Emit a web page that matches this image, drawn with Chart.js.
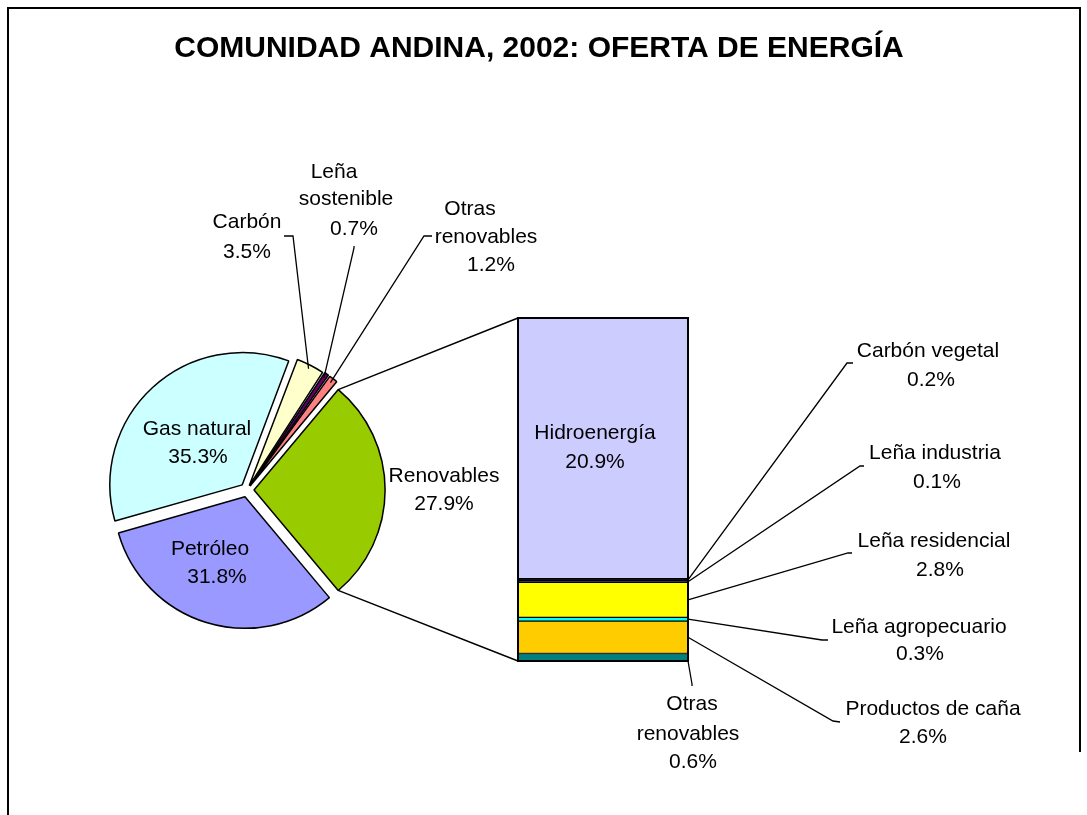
<!DOCTYPE html>
<html>
<head>
<meta charset="utf-8">
<script src="https://cdn.jsdelivr.net/npm/chart.js@4.4.0/dist/chart.umd.min.js"></script>
<style>
  body { margin: 0; background: #fff; }
  #wrap { position: relative; width: 1087px; height: 815px; overflow: hidden; }
  .ln { position: absolute; background: #000; }
  canvas { position: absolute; left: 0; top: 0; }
</style>
</head>
<body>
<div id="wrap">
  <div class="ln" style="left:7px;top:7px;width:1074px;height:2px"></div>
  <div class="ln" style="left:7px;top:7px;width:2px;height:808px"></div>
  <div class="ln" style="left:1079px;top:7px;width:2px;height:745px"></div>
  <canvas id="pie" width="1087" height="815"></canvas>
  <canvas id="bar" width="1087" height="815"></canvas>
</div>
<script>
// chart data
const title = "COMUNIDAD ANDINA, 2002: OFERTA DE ENERGÍA";
const pieLabels = ["Renovables", "Petróleo", "Gas natural", "Carbón", "Leña sostenible", "Otras renovables"];
const pieValues = [27.9, 31.8, 35.3, 3.5, 0.7, 1.2];
const pieColors = ["#99CC00", "#9999FF", "#CCFFFF", "#FFFFCC", "#660066", "#FF8080"];

// the "Renovables" slice broken down, bottom to top
const barLabels = ["Otras renovables", "Productos de caña", "Leña agropecuario", "Leña residencial", "Leña industria", "Carbón vegetal", "Hidroenergía"];
const barValues = [0.6, 2.6, 0.3, 2.8, 0.1, 0.2, 20.9];
const barColors = ["#008080", "#FFCC00", "#00FFFF", "#FFFF00", "#000080", "#000000", "#CCCCFF"];

// where the label texts sit (one point per text line) and their leader ticks
const pieLayout = [
  { at: [[444, 476], [444, 504]] },
  { at: [[210, 549], [217, 577]] },
  { at: [[197, 429], [198, 457]] },
  { at: [[247, 222], [247, 252]], tick: [[284, 236], [293, 236]] },
  { at: [[334, 172], [346, 199], [354, 229]], tick: [[354, 246], [354, 248]] },
  { at: [[470, 209], [486, 237], [491, 265]], tick: [[432, 236], [424, 236]] }
];
const pieOffsets = [28, 28, 28, 20, 20, 20];
const barLayout = [
  { at: [[692, 704], [688, 734], [693, 762]], tick: [[692, 686], [692, 684]], bottom: true },
  { at: [[933, 709], [923, 737]], tick: [[840, 722], [833, 721]] },
  { at: [[919, 627], [920, 654]], tick: [[828, 640], [822, 640]] },
  { at: [[934, 541], [940, 570]], tick: [[852, 553], [848, 553]] },
  { at: [[935, 453], [937, 482]], tick: [[864, 466], [860, 466]] },
  { at: [[928, 351], [931, 380]], tick: [[853, 363], [847, 363]] },
  { at: [[595, 433], [595, 462]] }
];

const labelFont = "21px 'Liberation Sans', Arial, sans-serif";

function labelLines(name, value, n) {
  const pct = value.toFixed(1) + "%";
  return n === 3 ? [...name.split(" "), pct] : [name, pct];
}

// point on the outer edge of a (possibly exploded) slice
function arcPoint(arc, angle) {
  const mid = (arc.startAngle + arc.endAngle) / 2;
  const t = (arc.options.offset || 0) / 4;
  const a = angle === undefined ? mid : angle;
  return {
    x: arc.x + Math.cos(mid) * t + Math.cos(a) * arc.outerRadius,
    y: arc.y + Math.sin(mid) * t + Math.sin(a) * arc.outerRadius
  };
}

function drawLabel(ctx, lines, lay, end) {
  lay.at.forEach(([x, y], k) => ctx.fillText(lines[k], x, y));
  if (lay.tick && end) {
    ctx.beginPath();
    ctx.moveTo(lay.tick[0][0], lay.tick[0][1]);
    ctx.lineTo(lay.tick[1][0], lay.tick[1][1]);
    ctx.lineTo(end.x, end.y);
    ctx.stroke();
  }
}

const pieLabelsPlugin = {
  id: "pieLabels",
  afterDraw(chart) {
    const ctx = chart.ctx;
    const arcs = chart.getDatasetMeta(0).data;
    ctx.save();
    ctx.fillStyle = "#000";
    ctx.strokeStyle = "#000";
    ctx.lineWidth = 1.3;
    ctx.textAlign = "center";
    ctx.textBaseline = "middle";
    ctx.font = "bold 30px 'Liberation Sans', Arial, sans-serif";
    ctx.fillText(title, 539, 49);
    ctx.font = labelFont;
    pieLayout.forEach((lay, i) => {
      drawLabel(ctx, labelLines(pieLabels[i], pieValues[i], lay.at.length), lay, arcPoint(arcs[i]));
    });
    ctx.restore();
  }
};

const pieChart = new Chart(document.getElementById("pie"), {
  type: "pie",
  data: {
    labels: pieLabels,
    datasets: [{
      data: pieValues,
      backgroundColor: pieColors,
      borderColor: "#000",
      borderWidth: 1.5,
      offset: pieOffsets
    }]
  },
  options: {
    responsive: false,
    animation: false,
    events: [],
    rotation: 40,
    radius: 131,
    layout: { padding: { left: 0, right: 593, top: 165, bottom: 0 } },
    plugins: { legend: { display: false }, tooltip: { enabled: false } }
  },
  plugins: [pieLabelsPlugin]
});

const barLabelsPlugin = {
  id: "barLabels",
  afterDraw(chart) {
    const ctx = chart.ctx;
    const bars = barLabels.map((_, i) => chart.getDatasetMeta(i).data[0].getProps(["x", "y", "base", "width"], true));
    const top = bars[bars.length - 1];
    const left = top.x - top.width / 2;
    const right = top.x + top.width / 2;
    const bottom = bars[0].base;
    ctx.save();
    // outline of the whole stack
    ctx.strokeStyle = "#000";
    ctx.lineWidth = 2;
    ctx.strokeRect(left, top.y, right - left, bottom - top.y);
    // lines joining the Renovables slice to the bar
    const renov = pieChart.getDatasetMeta(0).data[0];
    const p1 = arcPoint(renov, renov.startAngle);
    const p2 = arcPoint(renov, renov.endAngle);
    ctx.lineWidth = 1.5;
    ctx.beginPath();
    ctx.moveTo(p1.x, p1.y); ctx.lineTo(left, top.y);
    ctx.moveTo(p2.x, p2.y); ctx.lineTo(left, bottom);
    ctx.stroke();
    // labels
    ctx.lineWidth = 1.3;
    ctx.fillStyle = "#000";
    ctx.textAlign = "center";
    ctx.textBaseline = "middle";
    ctx.font = labelFont;
    barLayout.forEach((lay, i) => {
      const b = bars[i];
      const end = lay.bottom ? { x: right, y: b.base } : { x: right, y: (b.y + b.base) / 2 };
      drawLabel(ctx, labelLines(barLabels[i], barValues[i], lay.at.length), lay, end);
    });
    ctx.restore();
  }
};

const barTotal = barValues.reduce((a, b) => a + b, 0);

new Chart(document.getElementById("bar"), {
  type: "bar",
  data: {
    labels: ["Renovables"],
    datasets: barLabels.map((name, i) => ({
      label: name,
      data: [barValues[i]],
      backgroundColor: barColors[i],
      borderColor: "#000",
      borderWidth: 1,
      borderSkipped: false,
      barPercentage: 1,
      categoryPercentage: 1
    }))
  },
  options: {
    responsive: false,
    animation: false,
    events: [],
    layout: { padding: { left: 518, right: 399, top: 318, bottom: 154 } },
    scales: {
      x: { stacked: true, display: false },
      y: { stacked: true, display: false, min: 0, max: barTotal }
    },
    plugins: { legend: { display: false }, tooltip: { enabled: false } }
  },
  plugins: [barLabelsPlugin]
});
</script>
</body>
</html>
